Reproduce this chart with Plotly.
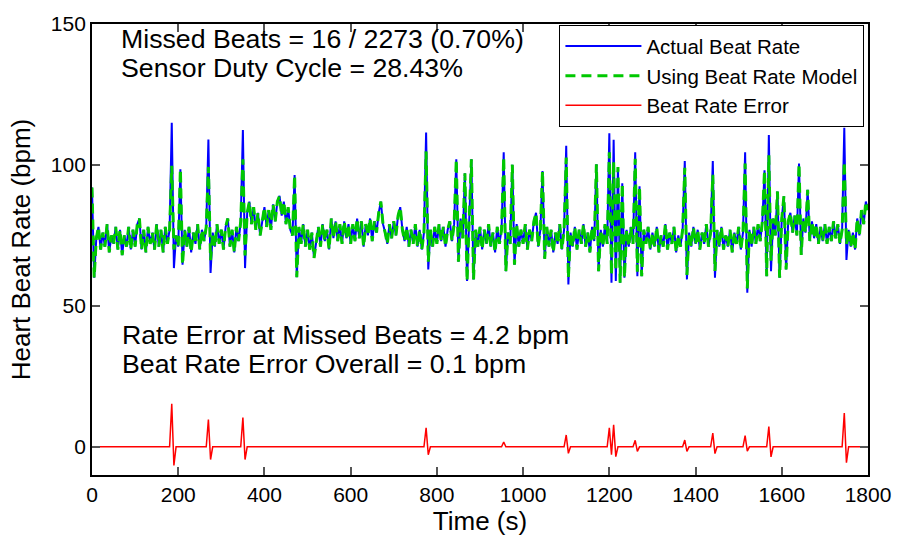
import plotly.graph_objects as go

# Sample times (s) of the beat-rate trace
time_s = list(range(0, 1801, 5))

# Actual beat rate (bpm)
actual_bpm = [
    92, 60, 74, 78, 70, 76, 71, 79, 69, 75, 72, 78, 70, 77, 68, 75, 71, 78, 70, 77,
    71, 79, 81, 70, 77, 69, 78, 72, 76, 70, 79, 71, 77, 69, 78, 72, 77, 115, 63.4, 75,
    71, 98.5, 64.6, 77, 71, 78, 69, 76, 72, 79, 70, 77, 73, 78, 109, 61.7, 76, 71, 79, 72,
    77, 70, 78, 81, 71, 77, 69, 78, 73, 80, 112.4, 63.4, 83, 87, 79, 85, 77, 83, 75, 81,
    85, 78, 84, 77, 86, 80, 87, 89, 82, 87, 79, 85, 77, 75, 96.4, 60.2, 78, 72, 79, 71,
    77, 70, 76, 67, 73, 78, 71, 79, 73, 77, 70, 81, 74, 80, 73, 79, 72, 80, 74, 79,
    72, 79, 73, 81, 74, 80, 71, 79, 75, 81, 73, 80, 76, 83, 87, 79, 76, 72, 79, 74,
    80, 75, 82, 85, 77, 73, 78, 71, 77, 72, 79, 71, 77, 70, 76, 111.5, 62.9, 77, 71, 78,
    72, 79, 73, 78, 71, 77, 80, 73, 79, 102, 65.7, 81, 74, 97, 58.8, 79, 102, 59.4, 77, 71,
    78, 70, 77, 72, 79, 71, 76, 69, 78, 72, 77, 104.5, 62.3, 76, 72, 100.1, 64.6, 79, 71, 77,
    72, 79, 70, 77, 73, 80, 83, 71, 77, 97.8, 66.7, 78, 71, 77, 69, 76, 72, 79, 70, 77,
    106.8, 57.6, 76, 71, 78, 70, 77, 72, 79, 71, 76, 69, 78, 73, 100.2, 62.3, 77, 71, 79, 72,
    111.2, 58.2, 108.9, 58.8, 99.3, 58.2, 93.5, 60, 77, 71, 78, 72, 104.5, 60.5, 92.4, 60.5, 77, 72, 78, 70,
    76, 71, 78, 69, 75, 71, 79, 70, 76, 72, 78, 69, 75, 71, 77, 101.4, 59.4, 76, 71, 78,
    72, 77, 70, 76, 72, 79, 71, 76, 101.4, 60, 77, 71, 78, 70, 75, 71, 77, 69, 76, 72,
    78, 70, 76, 104.5, 54.7, 77, 71, 78, 72, 79, 73, 80, 98.1, 60.5, 110.6, 62.3, 81, 75, 90.6, 60,
    81, 88.9, 62.9, 80, 83, 76, 82, 75, 100.5, 68.1, 81, 76, 91.2, 73, 80, 74, 79, 72, 78, 73,
    79, 72, 78, 73, 80, 74, 79, 72, 77, 113.2, 66.3, 77, 71, 76, 70, 81, 75, 84, 79, 87,
    84,
]
assert len(actual_bpm) == len(time_s)

# Missed beats: model (estimated) beat rate at those times
missed_times = [185, 190, 270, 275, 350, 355, 775, 780, 955, 1100, 1105,
                1200, 1205, 1210, 1215, 1260, 1265, 1375, 1380, 1440, 1445,
                1515, 1520, 1570, 1575, 1745, 1750]
model_at_missed = [99.7, 70.0, 99.3, 66.2, 102.0, 67.9, 104.8, 65.7, 102.8, 102.6, 59.9,
                   104.5, 61.0, 101.1, 62.3, 102.2, 62.1, 99.0, 61.0, 96.5, 62.4,
                   100.5, 56.2, 103.4, 65.9, 101.2, 71.9]

model_bpm = list(actual_bpm)
for t, v in zip(missed_times, model_at_missed):
    model_bpm[time_s.index(t)] = v
error_bpm = [a - m for a, m in zip(actual_bpm, model_bpm)]

x_ticks = [0, 200, 400, 600, 800, 1000, 1200, 1400, 1600, 1800]
y_ticks = [0, 50, 100, 150]

FONT = "Liberation Sans, Arial, Helvetica, sans-serif"

fig = go.Figure()
fig.add_trace(go.Scatter(x=time_s, y=actual_bpm, mode="lines", name="Actual Beat Rate",
                         line=dict(color="#0000FF", width=2)))
fig.add_trace(go.Scatter(x=time_s, y=model_bpm, mode="lines", name="Using Beat Rate Model",
                         line=dict(color="#00C800", width=3, dash="10px,6px")))
fig.add_trace(go.Scatter(x=time_s, y=error_bpm, mode="lines", name="Beat Rate Error",
                         line=dict(color="#FF0000", width=1.5)))

ann_font = dict(family=FONT, size=26.7, color="black")
for txt, xv, yv in [
    ("Missed Beats = 16 / 2273 (0.70%)", 63, 144.7),
    ("Sensor Duty Cycle = 28.43%", 63, 134.5),
    ("Rate Error at Missed Beats = 4.2 bpm", 65, 39.7),
    ("Beat Rate Error Overall = 0.1 bpm", 65, 29.5),
]:
    fig.add_annotation(x=xv, y=yv, xref="x", yref="y", text=txt, showarrow=False,
                       xanchor="left", yanchor="middle", font=ann_font)

axis_common = dict(showgrid=False, zeroline=False, showline=True, linecolor="black",
                   linewidth=1.8, mirror="ticks", ticks="inside", ticklen=8,
                   tickcolor="#555555", tickwidth=1.5,
                   tickfont=dict(family=FONT, size=21, color="black"))

fig.update_layout(
    width=903, height=542,
    margin=dict(l=92, r=29, t=14, b=66),
    paper_bgcolor="white", plot_bgcolor="white",
    font=dict(family=FONT, color="black"),
    xaxis=dict(range=[0, 1800], tickvals=x_ticks,
               title=dict(text="Time (s)", font=dict(family=FONT, size=26), standoff=6),
               **axis_common),
    yaxis=dict(range=[-10, 150], tickvals=y_ticks,
               title=dict(text="Heart Beat Rate (bpm)", font=dict(family=FONT, size=26), standoff=13),
               **axis_common),
    legend=dict(x=0.995, y=0.998, xanchor="right", yanchor="top",
                bgcolor="white", bordercolor="black", borderwidth=1.3, itemwidth=76,
                font=dict(family=FONT, size=20.5, color="black"), tracegroupgap=0),
    showlegend=True,
)

fig.write_html("out.html")
